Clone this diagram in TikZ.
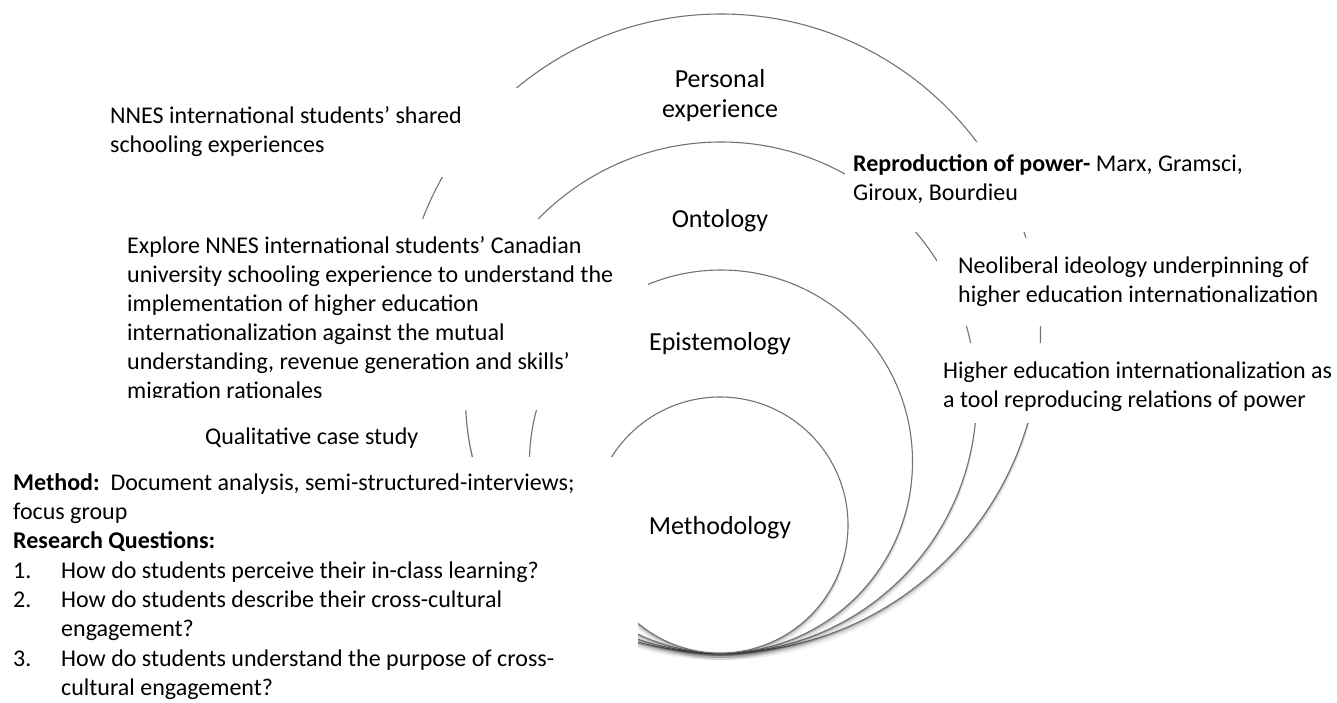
\documentclass[tikz,border=0pt]{standalone}
\usepackage{fontspec}
\setmainfont{Carlito}
\usetikzlibrary{shadows}
\begin{document}
\begin{tikzpicture}[x=1pt,y=-1pt,
  ring/.style={draw=black!55, line width=1.1pt, fill=white,
     general shadow={shadow yshift=-7pt, opacity=0.04, fill=black},
     general shadow={shadow yshift=-5pt, opacity=0.06, fill=black},
     general shadow={shadow yshift=-3pt, opacity=0.10, fill=black},
     general shadow={shadow yshift=-1.5pt, opacity=0.18, fill=black}},
  body/.style={font=\fontsize{24}{29}\selectfont, inner sep=0pt, anchor=north west, align=left},
  bodyb/.style={font=\fontsize{24}{29.3}\selectfont, inner sep=0pt, anchor=north west, align=left},
  lbl/.style={font=\fontsize{26}{30}\selectfont, inner sep=0pt, align=center},
  mask/.style={fill=white}]
\useasboundingbox (0,0) rectangle (1337,702);
\fill[white] (0,0) rectangle (1337,702);

% nested circles, tangent at the bottom
\path[ring] (721,333.5) circle[radius=319.5];
\path[ring] (721,397.5) circle[radius=255.5];
\path[ring] (721,461.5) circle[radius=191.5];
\path[ring] (720,525) circle[radius=128];

% white text boxes that mask the circles
\fill[mask] (100,88) rectangle (540,177);
\fill[mask] (120,219) rectangle (648,410);
\fill[mask] (845,142) rectangle (1250,232);
\fill[mask] (937,238) rectangle (1337,326);
\fill[mask] (935,343) rectangle (1337,423);
\fill[mask] (0,457) rectangle (638,702);

% circle labels
\node[lbl, anchor=north] (pers) at (720,66) {\strut Personal\\experience};
\node[lbl, anchor=base] (onto) at (720,227) {Ontology};
\node[lbl, anchor=base] (epis) at (720,350) {Epistemology};
\node[lbl, anchor=base] (meth) at (720,534) {Methodology};

% left texts
\node[body] (shared) at (110,102.7) {\strut NNES international students’ shared\\schooling experiences};
\node[body] (explore) at (127,232.7) {\strut Explore NNES international students’ Canadian\\university schooling experience to understand the\\implementation of higher education\\internationalization against the mutual\\understanding, revenue generation and skills’\\migration rationales};
\fill[mask] (150,398) rectangle (450,457);
\node[font=\fontsize{24}{29}\selectfont, inner sep=0pt, anchor=base west] (qual) at (205,444) {Qualitative case study};
\node[bodyb] (method) at (13,469.5) {\strut\textbf{Method:}\ \ Document analysis, semi-structured-interviews;\\
focus group\\
\textbf{Research Questions:}\\
\makebox[48pt][l]{1.}How do students perceive their in-class learning?\\
\makebox[48pt][l]{2.}How do students describe their cross-cultural\\
\hspace*{48pt}engagement?\\
\makebox[48pt][l]{3.}How do students understand the purpose of cross-\\
\hspace*{48pt}cultural engagement?};

% right texts
\node[body] (repro) at (853,150.7) {\strut\textbf{Reproduction of power-} Marx, Gramsci,\\Giroux, Bourdieu};
\node[body] (neolib) at (958,252.7) {\strut Neoliberal ideology underpinning of\\higher education internationalization};
\node[body] (tool) at (943,357.7) {\strut Higher education internationalization as\\a tool reproducing relations of power};
\end{tikzpicture}
\end{document}
